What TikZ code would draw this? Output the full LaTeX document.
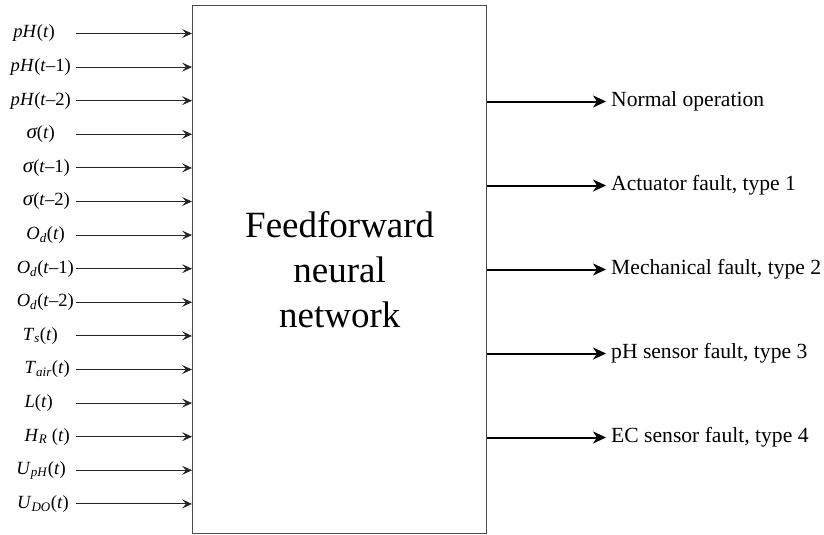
\documentclass[tikz,border=0pt]{standalone}
\usepackage{fontspec}
\setmainfont{Liberation Serif}
\usetikzlibrary{arrows.meta}
\newcommand{\sig}{{\fontsize{21}{21}\selectfont\itshape σ}}

\begin{document}
\begin{tikzpicture}[x=1pt, y=-1pt,
  inarrow/.style={draw=black!85, line width=1pt, -{Stealth[length=10pt, width=9pt, inset=4pt]}},
  outarrow/.style={draw=black, line width=2pt, -{Stealth[length=13pt, width=12pt, inset=4pt]}},
  inlabel/.style={anchor=east, inner sep=0pt, font=\fontsize{18.6}{20}\selectfont},
  outlabel/.style={anchor=west, inner sep=0pt, font=\fontsize{21.6}{24}\selectfont}]
  \useasboundingbox (0,0) rectangle (824,535);
  \node[draw=black!70, line width=1.3pt, minimum width=294pt, minimum height=528pt,
        align=center, font=\fontsize{37}{45}\selectfont] (ffnn) at (339.7,269.2)
        {Feedforward\\neural\\network};
  % inputs
  \foreach \lab/\xr [count=\i from 0] in {
      {\textit{pH}(\textit{t})}/55,
      {\textit{pH}(\textit{t}–1)}/71,
      {\textit{pH}(\textit{t}–2)}/71,
      {\sig(\textit{t})}/55,
      {\sig(\textit{t}–1)}/70,
      {\sig(\textit{t}–2)}/70,
      {\textit{O}\textsubscript{\textit{d}}(\textit{t})}/65,
      {\textit{O}\textsubscript{\textit{d}}(\textit{t}–1)}/74,
      {\textit{O}\textsubscript{\textit{d}}(\textit{t}–2)}/74,
      {\textit{T}\textsubscript{\textit{s}}(\textit{t})}/58,
      {\textit{T}\textsubscript{\textit{air}}(\textit{t})}/70,
      {\textit{L}(\textit{t})}/53,
      {\textit{H}\textsubscript{\textit{R}} (\textit{t})}/70,
      {\textit{U}\textsubscript{\textit{pH}}(\textit{t})}/66,
      {\textit{U}\textsubscript{\textit{DO}}(\textit{t})}/69} {
    \node[inlabel] (in\i) at (\xr,33.5+33.6*\i) {\lab};
    \coordinate (ins\i) at (76,33.5+33.6*\i);
    \draw[inarrow] (ins\i) -- (ins\i -| ffnn.west);
  }
  % outputs
  \foreach \lab [count=\j from 0] in {Normal operation, {Actuator fault, type 1},
      {Mechanical fault, type 2}, {pH sensor fault, type 3}, {EC sensor fault, type 4}} {
    \coordinate (oute\j) at (606,101.5+84*\j);
    \node[outlabel] (out\j) at (611,101.5+84*\j) {\lab};
    \draw[outarrow] (oute\j -| ffnn.east) -- (oute\j);
  }
\end{tikzpicture}
\end{document}
